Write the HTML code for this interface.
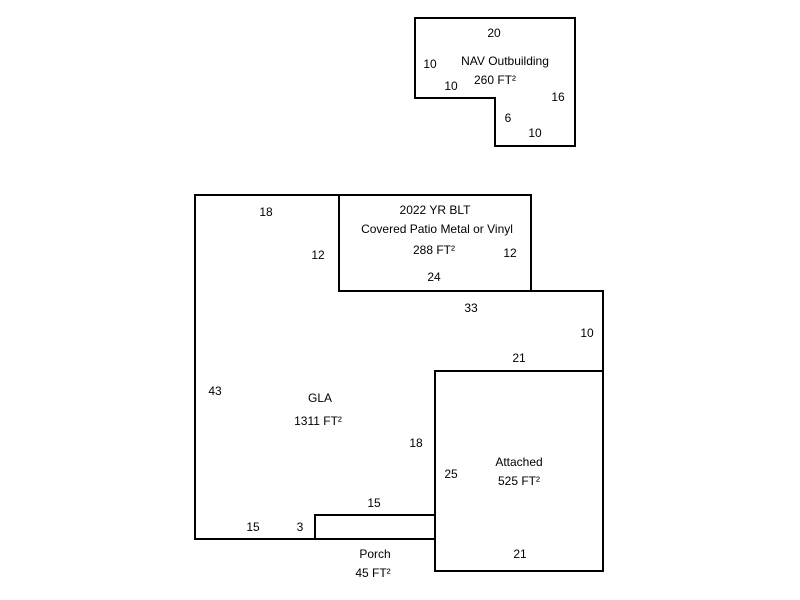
<!DOCTYPE html>
<html><head><style>body{margin:0;background:#fff}svg{display:block}text{font-family:"Liberation Sans",Arial,sans-serif;font-size:12px;fill:#000;text-anchor:middle}</style></head><body>
<svg width="800" height="600" viewBox="0 0 800 600">
<g fill="none" stroke="#000" stroke-width="2">
<polygon points="415,18 575,18 575,146 495,146 495,98 415,98"/>
<polygon points="195,195 339,195 339,291 603,291 603,371 435,371 435,515 315,515 315,539 195,539"/>
<rect x="339" y="195" width="192" height="96"/>
<rect x="435" y="371" width="168" height="200"/>
<rect x="315" y="515" width="120" height="24"/>
</g>
<text x="494" y="37">20</text>
<text x="430" y="68">10</text>
<text x="505" y="65">NAV Outbuilding</text>
<text x="495" y="84">260 FT²</text>
<text x="451" y="90">10</text>
<text x="558" y="101">16</text>
<text x="508" y="122">6</text>
<text x="535" y="137">10</text>
<text x="266" y="216">18</text>
<text x="435" y="214">2022 YR BLT</text>
<text x="437" y="233">Covered Patio Metal or Vinyl</text>
<text x="434" y="254">288 FT²</text>
<text x="318" y="259">12</text>
<text x="510" y="257">12</text>
<text x="434" y="281">24</text>
<text x="471" y="312">33</text>
<text x="587" y="337">10</text>
<text x="519" y="362">21</text>
<text x="215" y="395">43</text>
<text x="320" y="402">GLA</text>
<text x="318" y="425">1311 FT²</text>
<text x="416" y="447">18</text>
<text x="519" y="466">Attached</text>
<text x="451" y="478">25</text>
<text x="519" y="485">525 FT²</text>
<text x="374" y="507">15</text>
<text x="253" y="531">15</text>
<text x="300" y="531">3</text>
<text x="375" y="558">Porch</text>
<text x="373" y="577">45 FT²</text>
<text x="520" y="558">21</text>
</svg>
</body></html>
